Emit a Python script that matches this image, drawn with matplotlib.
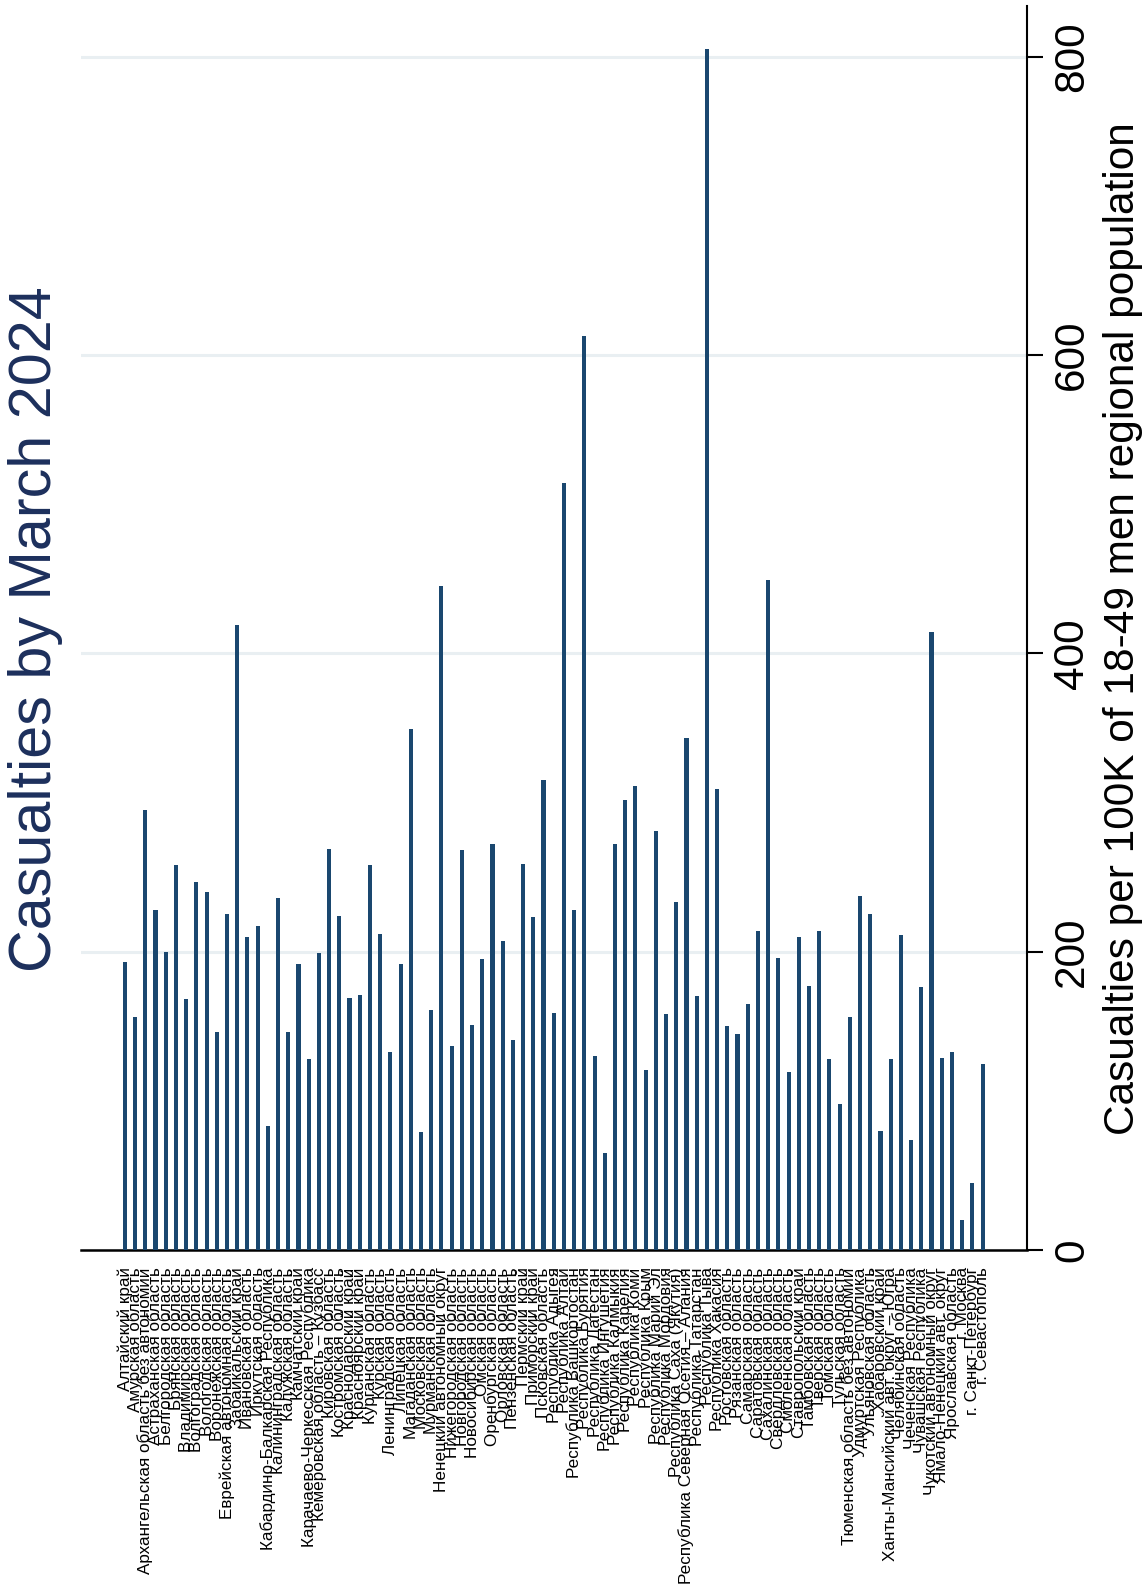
import numpy as np
import matplotlib
matplotlib.use('Agg')
import matplotlib.pyplot as plt

plt.rcParams['font.family'] = ['Liberation Sans', 'DejaVu Sans']

regions = [
    'Алтайский край', 'Амурская область', 'Архангельская область без автономии',
    'Астраханская область', 'Белгородская область', 'Брянская область',
    'Владимирская область', 'Волгоградская область', 'Вологодская область',
    'Воронежская область', 'Еврейская автономная область', 'Забайкальский край',
    'Ивановская область', 'Иркутская область', 'Кабардино-Балкарская Республика',
    'Калининградская область', 'Калужская область', 'Камчатский край',
    'Карачаево-Черкесская Республика', 'Кемеровская область – Кузбасс',
    'Кировская область', 'Костромская область', 'Краснодарский край',
    'Красноярский край', 'Курганская область', 'Курская область',
    'Ленинградская область', 'Липецкая область', 'Магаданская область',
    'Московская область', 'Мурманская область', 'Ненецкий автономный округ',
    'Нижегородская область', 'Новгородская область', 'Новосибирская область',
    'Омская область', 'Оренбургская область', 'Орловская область',
    'Пензенская область', 'Пермский край', 'Приморский край',
    'Псковская область', 'Республика Адыгея', 'Республика Алтай',
    'Республика Башкортостан', 'Республика Бурятия', 'Республика Дагестан',
    'Республика Ингушетия', 'Республика Калмыкия', 'Республика Карелия',
    'Республика Коми', 'Республика Крым', 'Республика Марий Эл',
    'Республика Мордовия', 'Республика Саха (Якутия)',
    'Республика Северная Осетия – Алания', 'Республика Татарстан',
    'Республика Тыва', 'Республика Хакасия', 'Ростовская область',
    'Рязанская область', 'Самарская область', 'Саратовская область',
    'Сахалинская область', 'Свердловская область', 'Смоленская область',
    'Ставропольский край', 'Тамбовская область', 'Тверская область',
    'Томская область', 'Тульская область', 'Тюменская область без автономии',
    'Удмуртская Республика', 'Ульяновская область', 'Хабаровский край',
    'Ханты-Мансийский авт. округ – Югра', 'Челябинская область',
    'Чеченская Республика', 'Чувашская Республика', 'Чукотский автономный округ',
    'Ямало-Ненецкий авт. округ', 'Ярославская область', 'г. Москва',
    'г. Санкт-Петербург', 'г. Севастополь',
]

casualties = [
    193, 156, 295, 228, 200, 258, 168, 247, 240, 146,
    225, 419, 210, 217, 83, 236, 146, 192, 128, 199,
    269, 224, 169, 171, 258, 212, 133, 192, 349, 79,
    161, 445, 137, 268, 151, 195, 272, 207, 141, 259,
    223, 315, 159, 514, 228, 613, 130, 65, 272, 302,
    311, 121, 281, 158, 233, 343, 170, 805, 309, 150,
    145, 165, 214, 449, 196, 119, 210, 177, 214, 128,
    98, 156, 237, 225, 80, 128, 211, 74, 176, 414,
    129, 133, 20, 45, 125,
]

navy = '#1a476f'
title_navy = '#1c2f5c'
W, H = 1146, 1590

fig = plt.figure(figsize=(W / 100, H / 100), dpi=100)
ax = fig.add_axes([81 / W, 340 / H, (1027 - 81) / W, (1584 - 340) / H])

x = np.arange(len(regions))
ax.bar(x, casualties, width=0.4, color=navy, zorder=3)

ax.set_xlim(-4.3, 88.35)
ax.set_ylim(0, 834)

for s in ['top', 'left']:
    ax.spines[s].set_visible(False)
ax.spines['right'].set_linewidth(1.5)
ax.spines['bottom'].set_linewidth(1.8)

# value axis sits on the right, labels turned sideways
ax.yaxis.tick_right()
ax.set_yticks([0, 200, 400, 600, 800])
ax.tick_params(axis='y', length=11.5, width=1.5, labelsize=30.5, pad=6.5)
for t in ax.get_yticklabels():
    t.set_rotation(90)
    t.set_va('center')
ax.yaxis.grid(True, color='#e9eff2', linewidth=2.2, zorder=0)
ax.set_axisbelow(True)

ax.set_xticks(x)
ax.set_xticklabels(regions, rotation=90, fontsize=12.3, ha='center', va='top')
ax.tick_params(axis='x', length=0, pad=12.5)

fig.text(35.5 / W, 1 - 629 / H, 'Casualties by March 2024', rotation=90,
         fontsize=42.7, color=title_navy, ha='center', va='center')
fig.text(1123 / W, 1 - 629 / H, 'Casualties per 100K of 18-49 men regional population',
         rotation=90, fontsize=30.5, ha='center', va='center')

fig.savefig('out.png', dpi=100)
